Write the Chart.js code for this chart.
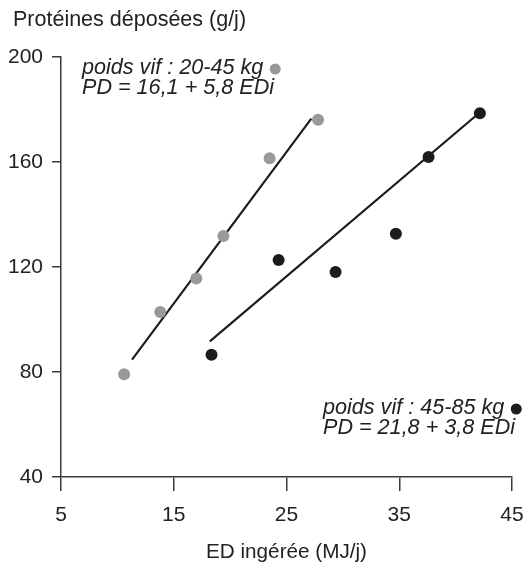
<!DOCTYPE html>
<html>
<head>
<meta charset="utf-8">
<script src="https://cdn.jsdelivr.net/npm/chart.js@4.4.0/dist/chart.umd.min.js"></script>
<style>
  body { margin: 0; background: #fff; }
  #wrap { width: 532px; height: 571px; }
</style>
</head>
<body>
<div id="wrap"><canvas id="chart" width="532" height="571"></canvas></div>
<script>
// Points (ED ingérée, Protéines déposées)
const grayX = [10.6, 13.8, 17.0, 19.4, 23.5, 27.8];
const grayY = [79.1, 102.9, 115.6, 131.8, 161.4, 176.1];
const blackX = [18.35, 24.3, 29.35, 34.7, 37.6, 42.15];
const blackY = [86.6, 122.7, 118.1, 132.7, 161.9, 178.6];

// Regression lines, end points as drawn
const grayFitX = [11.3, 27.2];
const grayFitY = [84.7, 176.5];
const blackFitX = [18.2, 41.85];
const blackFitY = [91.7, 177.8];

const xTicks = [5, 15, 25, 35, 45];
const yTicks = [40, 80, 120, 160, 200];

const legendGray = ['poids vif : 20-45 kg', 'PD = 16,1 + 5,8 EDi'];
const legendBlack = ['poids vif : 45-85 kg', 'PD = 21,8 + 3,8 EDi'];
const yTitle = 'Protéines déposées (g/j)';
const xTitle = 'ED ingérée (MJ/j)';

const GRAY = '#999999';
const BLACK = '#1c1c1c';
const AXIS = '#3a3a3a';
const TEXT = '#222222';
const FONT = "'Liberation Sans', Arial, sans-serif";

const pts = (xs, ys) => xs.map((x, i) => ({ x: x, y: ys[i] }));

// Draw the y title and the two legend boxes
const annotations = {
    id: 'annotations',
    afterDraw(chart) {
        const ctx = chart.ctx;
        const area = chart.chartArea;
        ctx.save();
        ctx.fillStyle = TEXT;
        ctx.textBaseline = 'middle';
        ctx.textAlign = 'left';
        ctx.font = '21.5px ' + FONT;
        ctx.fillText(yTitle, 13, 20);

        const drawLegend = (lines, x, y, color) => {
            ctx.font = 'italic 21.6px ' + FONT;
            ctx.fillStyle = TEXT;
            lines.forEach((t, i) => ctx.fillText(t, x, y + i * 20));
            const w = ctx.measureText(lines[0]).width;
            ctx.beginPath();
            ctx.arc(x + w + 12, y + 1, 5.5, 0, Math.PI * 2);
            ctx.fillStyle = color;
            ctx.fill();
        };
        drawLegend(legendGray, area.left + 21, area.top + 11, GRAY);
        drawLegend(legendBlack, area.left + 262, area.top + 351, BLACK);
        ctx.restore();
    }
};

new Chart(document.getElementById('chart'), {
    type: 'scatter',
    data: {
        datasets: [
            {
                data: pts(grayX, grayY),
                backgroundColor: GRAY,
                borderWidth: 0,
                pointRadius: 6,
                order: 1
            },
            {
                data: pts(blackX, blackY),
                backgroundColor: BLACK,
                borderWidth: 0,
                pointRadius: 6,
                order: 1
            },
            {
                data: pts(grayFitX, grayFitY),
                showLine: true,
                borderColor: BLACK,
                borderWidth: 2.2,
                pointRadius: 0,
                order: 2
            },
            {
                data: pts(blackFitX, blackFitY),
                showLine: true,
                borderColor: BLACK,
                borderWidth: 2.2,
                pointRadius: 0,
                order: 2
            }
        ]
    },
    options: {
        responsive: false,
        animation: false,
        events: [],
        layout: { padding: { left: 0, right: 20, top: 57, bottom: 0 } },
        plugins: {
            legend: { display: false },
            tooltip: { enabled: false }
        },
        scales: {
            x: {
                type: 'linear',
                min: xTicks[0],
                max: xTicks[xTicks.length - 1],
                // fixed box: no extra room asked for the edge labels
                afterFit: s => { s.height = 94; s.paddingLeft = 0; s.paddingRight = 0; },
                afterBuildTicks: s => { s.ticks = xTicks.map(v => ({ value: v })); },
                border: { display: true, color: AXIS, width: 1.5 },
                grid: { drawOnChartArea: false, drawTicks: true, tickLength: 14, color: AXIS, lineWidth: 1.5 },
                ticks: { color: TEXT, font: { family: FONT, size: 21 }, padding: 12, maxRotation: 0 },
                title: { display: true, text: xTitle, color: TEXT, font: { family: FONT, size: 20.7 }, padding: { top: 0, bottom: 6 } }
            },
            y: {
                type: 'linear',
                min: yTicks[0],
                max: yTicks[yTicks.length - 1],
                afterFit: s => { s.width = 61; s.paddingTop = 0; s.paddingBottom = 0; },
                afterBuildTicks: s => { s.ticks = yTicks.map(v => ({ value: v })); },
                border: { display: true, color: AXIS, width: 1.5 },
                grid: { drawOnChartArea: false, drawTicks: true, tickLength: 9, color: AXIS, lineWidth: 1.5 },
                ticks: { color: TEXT, font: { family: FONT, size: 21 }, padding: 9 }
            }
        }
    },
    plugins: [annotations]
});
</script>
</body>
</html>
